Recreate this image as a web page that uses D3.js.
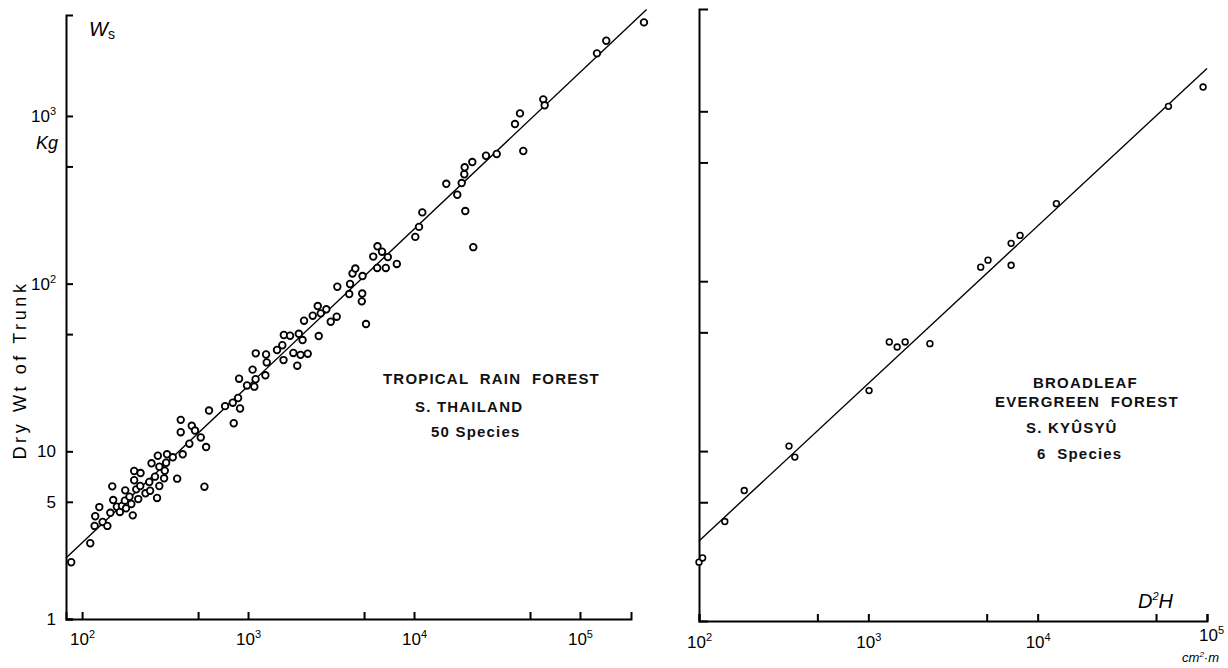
<!DOCTYPE html>
<html>
<head>
<meta charset="utf-8">
<script src="https://cdn.jsdelivr.net/npm/d3@7"></script>
<style>
  body { margin: 0; background: #fff; }
  svg { display: block; font-family: "Liberation Sans", Arial, sans-serif; }
  .axis path, .axis line { stroke: #000; stroke-width: 2; }
  .axis text { font-family: "Liberation Sans", Arial, sans-serif; font-size: 17px; fill: #000; }
  .fit { fill: none; stroke: #000; stroke-width: 1.4; }
  .dot { fill: #fff; stroke: #000; }
  .note { font-size: 15px; font-weight: bold; letter-spacing: 1.2px; fill: #111; }
  .lab { fill: #000; }
</style>
</head>
<body>
<div id="chart"></div>
<script>
// Tropical rain forest, S. Thailand : D2H (cm2.m) and trunk dry weight Ws (kg)
var tropD2H = [86, 112, 119, 120, 127, 133, 142, 148, 152, 154, 162, 169, 174, 181, 182, 184,
  193, 198, 202, 206, 206, 212, 218, 225, 224, 241, 254, 257, 262, 275, 283, 286, 292, 292,
  312, 315, 321, 325, 352, 374, 393, 393, 404, 443, 458, 479, 519, 546, 559, 582, 727, 809,
  820, 895, 871,
  883, 986, 1065, 1091, 1110, 1113, 1272, 1284, 1296, 1495, 1609, 1636, 1643, 1791, 1875,
  1979, 2023, 2072, 2130, 2289, 2175, 2454, 2666, 2630, 2742, 2963, 3150, 3422, 3451, 4071,
  4117, 4261, 4430, 4895, 4875, 4847, 5138, 5679, 6027, 6417, 6953, 6002, 6762, 7879, 10180,
  10720, 11220, 22760, 20370, 18230, 15650, 19380, 20090, 20200, 22450, 27150, 31500, 45540,
  40590, 43510, 60100, 61280, 126600, 144000, 243000];
var tropW = [2.18, 2.83, 3.59, 4.10, 4.65, 3.79, 3.59, 4.30, 6.18, 5.12, 4.67, 4.35, 4.72, 5.08,
  5.85, 4.57, 5.36, 4.85, 4.15, 7.63, 6.72, 5.93, 5.19, 7.42, 6.21, 5.62, 6.56, 5.82, 8.48, 7.06,
  5.27, 9.41, 8.09, 6.21, 6.90, 7.66, 8.55, 9.60, 9.21, 6.87, 15.4, 13.0, 9.60, 11.1, 14.2, 13.3,
  12.1, 6.15, 10.6, 17.5, 18.6, 19.5, 14.7, 18.0, 20.8,
  27.1, 24.7, 30.7, 24.3, 26.9, 38.4, 28.4, 37.8, 33.9, 40.2, 42.9, 35.0, 49.4, 48.9, 38.6,
  32.4, 50.2, 37.6, 46.1, 38.2, 60.1, 64.4, 48.7, 73.5, 66.5, 70.3, 59.3, 63.5, 95.8, 86.7,
  99.5, 115, 123, 111, 87.3, 78.4, 57.4, 145, 167, 155, 144, 124, 124, 131, 190,
  218, 266, 165, 271, 339, 394, 398, 449, 494, 531, 579, 593, 618,
  895, 1036, 1256, 1157, 2362, 2808, 3614];
var tropFitD2H = [80, 252000];
var tropFitW = [2.31, 4320];

// Broadleaf evergreen forest, S. Kyusyu
var kyuD2H = [100, 105, 142, 185, 340, 368, 1010, 1330, 1480, 1650, 2310, 4610, 5090, 6970,
  6970, 7870, 12900, 59200, 94800];
var kyuW = [2.22, 2.35, 3.85, 5.86, 10.7, 9.22, 22.7, 43.9, 41.0, 43.9, 42.9, 121, 133, 167,
  124, 186, 286, 1069, 1389];
var kyuFitD2H = [100, 100000];
var kyuFitW = [2.96, 1785];

// ticks and their labels ("10^3" = ten to the third)
var leftXTicks = [100, 500, 1000, 5000, 10000, 50000, 100000];
var leftXLabels = ["10^2", "", "10^3", "", "10^4", "", "10^5"];
var leftYTicks = [1, 5, 10, 50, 100, 500, 1000];
var leftYLabels = ["1", "5", "10", "", "10^2", "", "10^3"];
var rightXTicks = [100, 500, 1000, 5000, 10000, 50000, 100000];
var rightXLabels = ["10^2", "", "10^3", "", "10^4", "", "10^5"];
var rightYTicks = [5, 10, 50, 100, 500, 1000];
var rightYLabels = ["", "", "", "", "", ""];

var svg = d3.select("#chart").append("svg")
    .attr("width", 1228)
    .attr("height", 668);

function supLabel(g, ticks, labels) {
  g.selectAll(".tick text").each(function(d) {
    var lab = labels[ticks.indexOf(d)] || "";
    var t = d3.select(this).text(null);
    var parts = lab.split("^");
    t.append("tspan").text(parts[0]);
    if (parts.length > 1) {
      t.append("tspan").attr("dy", "-0.6em").style("font-size", "11px").text(parts[1]);
    }
  });
}

function drawPanel(p) {
  var x = d3.scaleLog().domain(p.xDomain).range(p.xRange);
  var y = d3.scaleLog().domain(p.yDomain).range(p.yRange);

  var xAxis = d3.axisBottom(x).tickValues(p.xTicks)
      .tickSize(-7).tickSizeOuter(-7).tickPadding(p.xPad);
  var yAxis = d3.axisLeft(y).tickValues(p.yTicks)
      .tickSize(-p.yTick).tickSizeOuter(-p.yTick).tickPadding(10);

  var gx = svg.append("g")
      .attr("class", "axis")
      .attr("transform", "translate(0," + p.yRange[0] + ")")
      .call(xAxis);
  supLabel(gx, p.xTicks, p.xLabels);

  var gy = svg.append("g")
      .attr("class", "axis")
      .attr("transform", "translate(" + p.xRange[0] + ",0)")
      .call(yAxis);
  supLabel(gy, p.yTicks, p.yLabels);

  var line = d3.line()
      .x(function(d) { return x(d[0]); })
      .y(function(d) { return y(d[1]); });

  svg.append("path")
      .datum(d3.zip(p.fitX, p.fitY))
      .attr("class", "fit")
      .attr("d", line);

  svg.append("g").selectAll("circle")
      .data(d3.zip(p.dataX, p.dataY))
    .enter().append("circle")
      .attr("class", "dot")
      .attr("cx", function(d) { return x(d[0]); })
      .attr("cy", function(d) { return y(d[1]); })
      .attr("r", p.r)
      .style("stroke-width", p.sw);

  return gx;
}

drawPanel({
  xDomain: [80, 203000], xRange: [66, 631],
  yDomain: [1, 4000], yRange: [619, 15],
  xTicks: leftXTicks, xLabels: leftXLabels, xPad: 14,
  yTicks: leftYTicks, yLabels: leftYLabels, yTick: 7,
  dataX: tropD2H, dataY: tropW, fitX: tropFitD2H, fitY: tropFitW,
  r: 3.3, sw: 1.8
});

var gxR = drawPanel({
  xDomain: [100, 100000], xRange: [699, 1207],
  yDomain: [1, 4000], yRange: [621, 9],
  xTicks: rightXTicks, xLabels: rightXLabels, xPad: 15,
  yTicks: rightYTicks, yLabels: rightYLabels, yTick: 9,
  dataX: kyuD2H, dataY: kyuW, fitX: kyuFitD2H, fitY: kyuFitW,
  r: 2.9, sw: 1.6
});

// the 10^5 label at the end of the right axis sits a bit higher
gxR.selectAll(".tick text")
    .filter(function(d) { return d === 100000; })
    .attr("dx", 4).attr("y", 8);

// axis titles and unit marks
svg.append("text")
    .attr("class", "lab")
    .attr("transform", "translate(26,370) rotate(-90)")
    .attr("text-anchor", "middle")
    .style("font-size", "18px")
    .style("letter-spacing", "3.6px")
    .text("Dry Wt of Trunk");

var ws = svg.append("text").attr("class", "lab").attr("x", 89).attr("y", 36);
ws.append("tspan").style("font-style", "italic").style("font-size", "20px").text("W");
ws.append("tspan").attr("dy", 3).style("font-size", "14px").text("s");

svg.append("text")
    .attr("class", "lab")
    .attr("x", 36).attr("y", 149)
    .style("font-style", "italic").style("font-size", "18px")
    .text("Kg");

var dh = svg.append("text").attr("class", "lab").attr("x", 1138).attr("y", 608)
    .style("font-style", "italic").style("font-size", "20px");
dh.append("tspan").text("D");
dh.append("tspan").attr("dy", -8).style("font-size", "11px").text("2");
dh.append("tspan").attr("dy", 8).text("H");

var cm = svg.append("text").attr("class", "lab").attr("x", 1219).attr("y", 662)
    .attr("text-anchor", "end")
    .style("font-style", "italic").style("font-size", "13px");
cm.append("tspan").text("cm");
cm.append("tspan").attr("dy", -5).style("font-size", "8px").text("2");
cm.append("tspan").attr("dy", 5).text("·m");

// panel notes
var notesL = [["TROPICAL  RAIN  FOREST", 383, 384], ["S. THAILAND", 415, 412], ["50 Species", 431, 437]];
var notesR = [["BROADLEAF", 1033, 388], ["EVERGREEN  FOREST", 995, 407], ["S. KYÛSYÛ", 1026, 433], ["6  Species", 1037, 459]];

svg.selectAll("text.note")
    .data(notesL.concat(notesR))
  .enter().append("text")
    .attr("class", "note")
    .attr("x", function(d) { return d[1]; })
    .attr("y", function(d) { return d[2]; })
    .attr("xml:space", "preserve")
    .text(function(d) { return d[0]; });
</script>
</body>
</html>
